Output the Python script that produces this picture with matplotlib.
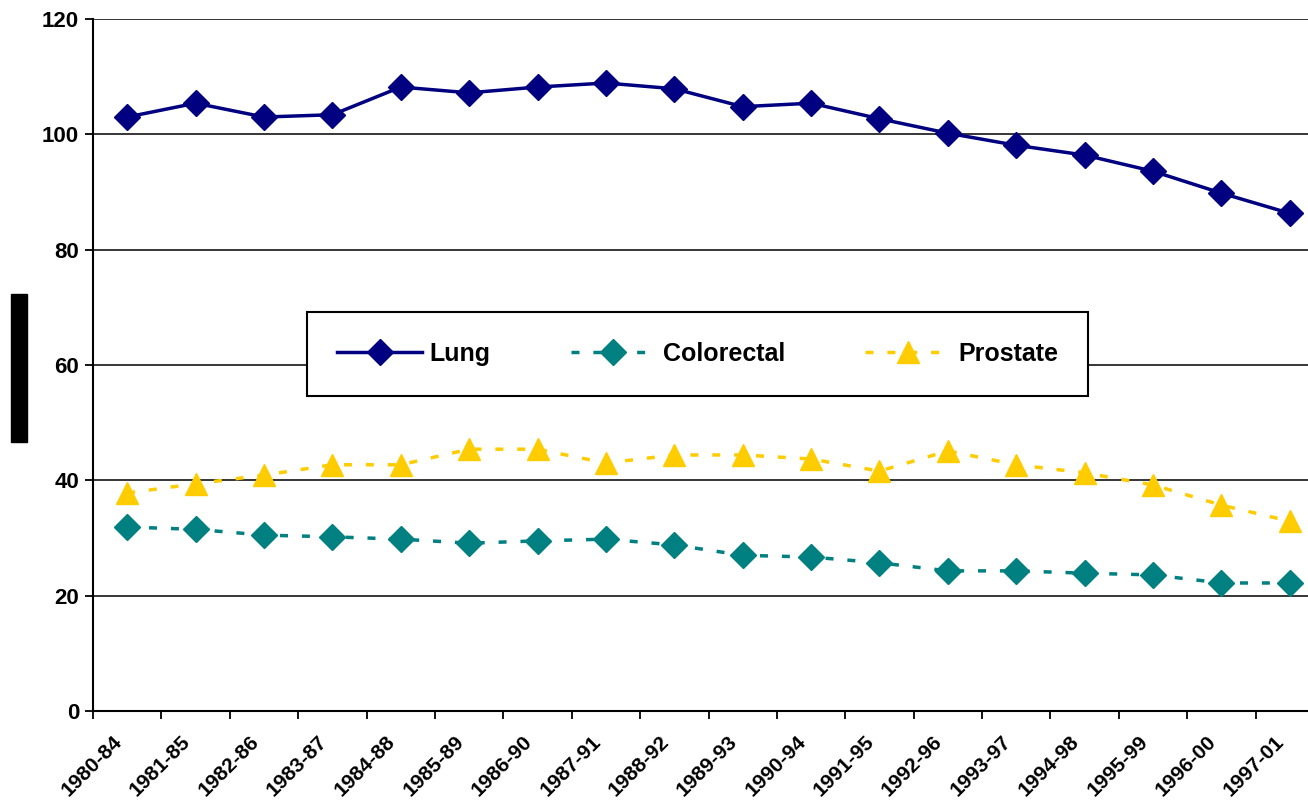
import matplotlib
matplotlib.use("Agg")
import matplotlib.pyplot as plt
from matplotlib.patches import Rectangle
from matplotlib.transforms import ScaledTranslation

plt.rcParams["font.family"] = ["Liberation Sans", "DejaVu Sans"]
plt.rcParams["font.weight"] = "bold"

periods = ["1980-84", "1981-85", "1982-86", "1983-87", "1984-88", "1985-89",
           "1986-90", "1987-91", "1988-92", "1989-93", "1990-94", "1991-95",
           "1992-96", "1993-97", "1994-98", "1995-99", "1996-00", "1997-01"]

lung = [103.0, 105.4, 103.0, 103.4, 108.2, 107.2, 108.2, 108.9, 107.9,
        104.8, 105.4, 102.7, 100.2, 98.1, 96.4, 93.6, 89.8, 86.3]
colorectal = [31.9, 31.5, 30.5, 30.2, 29.8, 29.1, 29.5, 29.8, 28.8,
              27.0, 26.7, 25.7, 24.3, 24.3, 23.9, 23.6, 22.2, 22.2]
prostate = [37.8, 39.4, 40.9, 42.7, 42.7, 45.4, 45.4, 43.0, 44.4,
            44.4, 43.7, 41.6, 45.1, 42.7, 41.3, 39.2, 35.7, 32.9]

W, H = 1308, 801
fig = plt.figure(figsize=(W / 100, H / 100), dpi=100)

# axes run past the right edge (the source chart is cropped there)
left, right, top, bottom = 93, 1324, 19, 711
ax = fig.add_axes([left / W, 1 - bottom / H, (right - left) / W, (bottom - top) / H])

x = range(len(periods))
dash = (0, (2.3, 4))
ax.plot(x, lung, color="#000080", lw=2.5, marker="D", ms=13, label="Lung")
ax.plot(x, colorectal, color="#008080", lw=2.5, ls=dash, marker="D", ms=13,
        label="Colorectal")
ax.plot(x, prostate, color="#FFCC00", lw=2.5, ls=dash, marker="^", ms=16,
        label="Prostate")

ax.set_xlim(-0.5, len(periods) - 0.5)
ax.set_ylim(0, 120)
ax.set_yticks(range(0, 121, 20))
ax.yaxis.grid(True, color="black", lw=1.1)
ax.set_axisbelow(True)

# category boundaries get the tick marks, centers get the labels
ax.set_xticks([i - 0.5 for i in range(len(periods) + 1)])
ax.set_xticklabels([])
ax.set_xticks(list(x), minor=True)
ax.set_xticklabels(periods, minor=True, rotation=45, ha="right",
                   rotation_mode="anchor", fontsize=15, fontweight="bold")
ax.tick_params(axis="x", which="minor", length=0, pad=15)
ax.tick_params(axis="x", which="major", length=6, width=1.3, direction="out")
ax.tick_params(axis="y", length=6, width=1.3, labelsize=16, pad=4)
for lab in ax.get_yticklabels():
    lab.set_fontweight("bold")
shift = ScaledTranslation(-15 / 100, 0, fig.dpi_scale_trans)
for lab in ax.get_xticklabels(minor=True):
    lab.set_transform(lab.get_transform() + shift)

for s in ["top", "right"]:
    ax.spines[s].set_visible(False)
for s in ["left", "bottom"]:
    ax.spines[s].set_linewidth(1.5)

leg = ax.legend(loc="center", bbox_to_anchor=((303 + 1092) / 2 / W, 1 - 354 / H),
                bbox_transform=fig.transFigure, ncol=3, fontsize=18,
                handlelength=3.4, handletextpad=0.3, columnspacing=3.2,
                borderpad=1.2, fancybox=False, framealpha=1, edgecolor="black")
leg.get_frame().set_linewidth(1.5)

# redacted y-axis title
fig.patches.append(Rectangle((11 / W, 1 - 442 / H), 16 / W, 148 / H,
                             transform=fig.transFigure, color="black"))

fig.savefig("out.png", dpi=100)
